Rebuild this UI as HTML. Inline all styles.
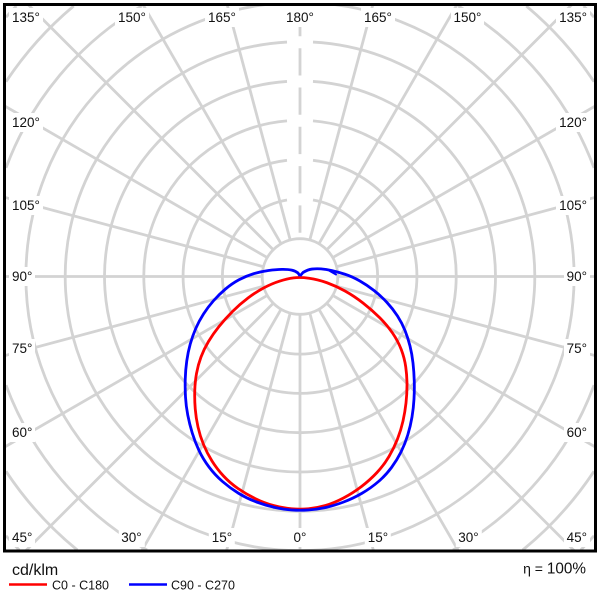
<!DOCTYPE html>
<html><head><meta charset="utf-8">
<style>
html,body{margin:0;padding:0;background:#fff;width:600px;height:600px;overflow:hidden;}
#w{position:relative;width:600px;height:600px;overflow:hidden;background:#fff;font-family:"Liberation Sans",Arial,sans-serif;}
svg{position:absolute;left:0;top:0;overflow:hidden;}
.l{position:absolute;background:#fff;padding:0 3px;height:19px;line-height:19px;font-size:13.5px;color:#111;white-space:nowrap;}
.c{transform:translateX(-50%);}
</style></head><body><div id="w">
<svg width="600" height="600" viewBox="0 0 600 600" xmlns="http://www.w3.org/2000/svg">
<defs><clipPath id="cp"><rect x="6" y="6" width="588" height="543.5"/></clipPath></defs>
<g clip-path="url(#cp)" stroke="#d3d3d3" stroke-width="2.8" fill="none">
<g transform="translate(300,276.5)">
<circle r="37.8"/>
<path d="M13,-76.5 A77.6,77.6 0 1 1 -13,-76.5"/>
<path d="M13,-116.18 A116.9,116.9 0 1 1 -13,-116.18"/>
<path d="M13,-155.66 A156.2,156.2 0 1 1 -13,-155.66"/>
<path d="M13,-195.07 A195.5,195.5 0 1 1 -13,-195.07"/>
<path d="M13,-234.44 A234.8,234.8 0 1 1 -13,-234.44"/>
<circle r="274.1"/>
<line x1="0" y1="37.8" x2="0" y2="274.5"/>
<line x1="0" y1="37.8" x2="0" y2="284.2" transform="rotate(15)"/>
<line x1="0" y1="37.8" x2="0" y2="317" transform="rotate(30)"/>
<line x1="0" y1="37.8" x2="0" y2="388" transform="rotate(45)"/>
<line x1="0" y1="37.8" x2="0" y2="341.5" transform="rotate(60)"/>
<line x1="0" y1="37.8" x2="0" y2="306" transform="rotate(75)"/>
<line x1="0" y1="37.8" x2="0" y2="296" transform="rotate(90)"/>
<line x1="0" y1="37.8" x2="0" y2="306" transform="rotate(105)"/>
<line x1="0" y1="37.8" x2="0" y2="341.5" transform="rotate(120)"/>
<line x1="0" y1="37.8" x2="0" y2="385" transform="rotate(135)"/>
<line x1="0" y1="37.8" x2="0" y2="314.5" transform="rotate(150)"/>
<line x1="0" y1="37.8" x2="0" y2="282" transform="rotate(165)"/>
<line x1="0" y1="37.8" x2="0" y2="284.2" transform="rotate(-15)"/>
<line x1="0" y1="37.8" x2="0" y2="317" transform="rotate(-30)"/>
<line x1="0" y1="37.8" x2="0" y2="388" transform="rotate(-45)"/>
<line x1="0" y1="37.8" x2="0" y2="341.5" transform="rotate(-60)"/>
<line x1="0" y1="37.8" x2="0" y2="306" transform="rotate(-75)"/>
<line x1="0" y1="37.8" x2="0" y2="296" transform="rotate(-90)"/>
<line x1="0" y1="37.8" x2="0" y2="306" transform="rotate(-105)"/>
<line x1="0" y1="37.8" x2="0" y2="341.5" transform="rotate(-120)"/>
<line x1="0" y1="37.8" x2="0" y2="385" transform="rotate(-135)"/>
<line x1="0" y1="37.8" x2="0" y2="314.5" transform="rotate(-150)"/>
<line x1="0" y1="37.8" x2="0" y2="282" transform="rotate(-165)"/>
<line x1="0" y1="-37.8" x2="0" y2="-272" stroke-dasharray="27.3 12" stroke-dashoffset="33.3"/>
</g>
<path d="M6,167.9 A313.4,313.4 0 0 1 141.7,6 M458.3,6 A313.4,313.4 0 0 1 594,167.9 M594,385.1 A313.4,313.4 0 0 1 453,550 M147,550 A313.4,313.4 0 0 1 6,385.1"/>
<path d="M6,81.7 A352.7,352.7 0 0 1 73.7,6 M526.3,6 A352.7,352.7 0 0 1 594,81.7 M594,471.3 A352.7,352.7 0 0 1 522.7,550 M77.3,550 A352.7,352.7 0 0 1 6,471.3"/>
<path d="M6,17.2 A392,392 0 0 1 16.3,6 M583.7,6 A392,392 0 0 1 594,17.2 M594,535.8 A392,392 0 0 1 580.8,550 M19.2,550 A392,392 0 0 1 6,535.8"/>
</g>
<path fill="none" stroke="#ff0000" stroke-width="2.8" stroke-linejoin="round" d="M293.5,277.9 Q300,277 309,278.25 Q318,279.5 327,282.75 Q336,286 345,291 Q354,296 363,303 Q372,310 379.5,317.5 Q387,325 392.5,333 Q398,341 401.25,349.5 Q404.5,358 405.75,367 Q407,376 407,385 Q407,394 406,403 Q405,412 403,421 Q401,430 397.5,439 Q394,448 389,456.5 Q384,465 377,472.5 Q370,480 361.5,486.5 Q353,493 343.5,498 Q334,503 325.5,505.5 Q317,508 308.5,508.75 Q300,509.5 291.5,508.75 Q283,508 273.5,505.5 Q264,503 255,498.5 Q246,494 238,488.5 Q230,483 223.5,476 Q217,469 212,461 Q207,453 203.5,444.5 Q200,436 198,427 Q196,418 195.25,409 Q194.5,400 194.75,391 Q195,382 196.5,373.5 Q198,365 201,357 Q204,349 208.5,341.5 Q213,334 219,326.5 Q225,319 232.5,311.5 Q240,304 248,298 Q256,292 264,287.75 Q272,283.5 279.5,281.15 Q287,278.8 293.5,277.9 Z"/>
<path fill="none" stroke="#0000ff" stroke-width="2.8" stroke-linejoin="round" d="M300,276 L303,272.5 Q308,269.5 312,269.05 Q316,268.6 321,268.9 Q326,269.2 332,270.6 Q338,272 345,274.25 Q352,276.5 359.5,280.75 Q367,285 374,290.5 Q381,296 387,302.5 Q393,309 397.5,316 Q402,323 405,330.5 Q408,338 410,346 Q412,354 413,363 Q414,372 414.25,381 Q414.5,390 414,399 Q413.5,408 412,417 Q410.5,426 407.75,435 Q405,444 401,452 Q397,460 391.5,467.5 Q386,475 378.5,481.5 Q371,488 362,493.25 Q353,498.5 343,502.25 Q333,506 324.5,507.75 Q316,509.5 308,510 Q300,510.5 292,510 Q284,509.5 275,507.5 Q266,505.5 256.5,502 Q247,498.5 238.5,493.25 Q230,488 222.5,481.5 Q215,475 209,467 Q203,459 199,450.5 Q195,442 192.25,433 Q189.5,424 187.75,415 Q186,406 185.5,397 Q185,388 185.25,379 Q185.5,370 186.75,361 Q188,352 190.25,344 Q192.5,336 195.75,328.5 Q199,321 203.5,314 Q208,307 213.5,300.75 Q219,294.5 225.5,289 Q232,283.5 239,279.75 Q246,276 253.5,273.75 Q261,271.5 268.5,270.5 Q276,269.5 282,269.4 Q288,269.3 291.75,270.15 Q295.5,271 298,273 L300,276"/>
<polyline fill="none" stroke="#0000ff" stroke-width="2" stroke-linejoin="round" points="329,270.5 336,274.5 332,272"/>
<rect x="4.5" y="4.5" width="591" height="546.5" fill="none" stroke="#000" stroke-width="3"/>
<text x="12" y="575" font-size="16" fill="#111" font-family="Liberation Sans, Arial, sans-serif">cd/klm</text>
<line x1="9" y1="584.5" x2="47" y2="584.5" stroke="#ff0000" stroke-width="2.5"/>
<text x="52" y="589.5" font-size="12.5" fill="#111" font-family="Liberation Sans, Arial, sans-serif">C0 - C180</text>
<line x1="129" y1="584.5" x2="167" y2="584.5" stroke="#0000ff" stroke-width="2.5"/>
<text x="171" y="589.5" font-size="12.5" fill="#111" font-family="Liberation Sans, Arial, sans-serif">C90 - C270</text>
<text x="586" y="573.5" text-anchor="end" fill="#111" font-family="Liberation Sans, Arial, sans-serif"><tspan font-size="14">η = </tspan><tspan font-size="15.3">100%</tspan></text>
</svg>
<div class="l" style="left:9px;top:8px">135°</div>
<div class="l c" style="left:132px;top:8px">150°</div>
<div class="l c" style="left:222px;top:8px">165°</div>
<div class="l c" style="left:300px;top:8px">180°</div>
<div class="l c" style="left:378px;top:8px">165°</div>
<div class="l c" style="left:467.5px;top:8px">150°</div>
<div class="l" style="right:10px;top:8px">135°</div>
<div class="l" style="left:9px;top:112.5px">120°</div>
<div class="l" style="left:9px;top:195.5px">105°</div>
<div class="l" style="left:9px;top:267px">90°</div>
<div class="l" style="left:9px;top:338.5px">75°</div>
<div class="l" style="left:9px;top:422.5px">60°</div>
<div class="l" style="left:9px;top:527.5px">45°</div>
<div class="l" style="right:10px;top:112.5px">120°</div>
<div class="l" style="right:10px;top:195.5px">105°</div>
<div class="l" style="right:10px;top:267px">90°</div>
<div class="l" style="right:10px;top:338.5px">75°</div>
<div class="l" style="right:10px;top:422.5px">60°</div>
<div class="l" style="right:10px;top:527.5px">45°</div>
<div class="l c" style="left:131.5px;top:527.5px">30°</div>
<div class="l c" style="left:222px;top:527.5px">15°</div>
<div class="l c" style="left:300px;top:527.5px">0°</div>
<div class="l c" style="left:378px;top:527.5px">15°</div>
<div class="l c" style="left:468.5px;top:527.5px">30°</div>
</div></body></html>
